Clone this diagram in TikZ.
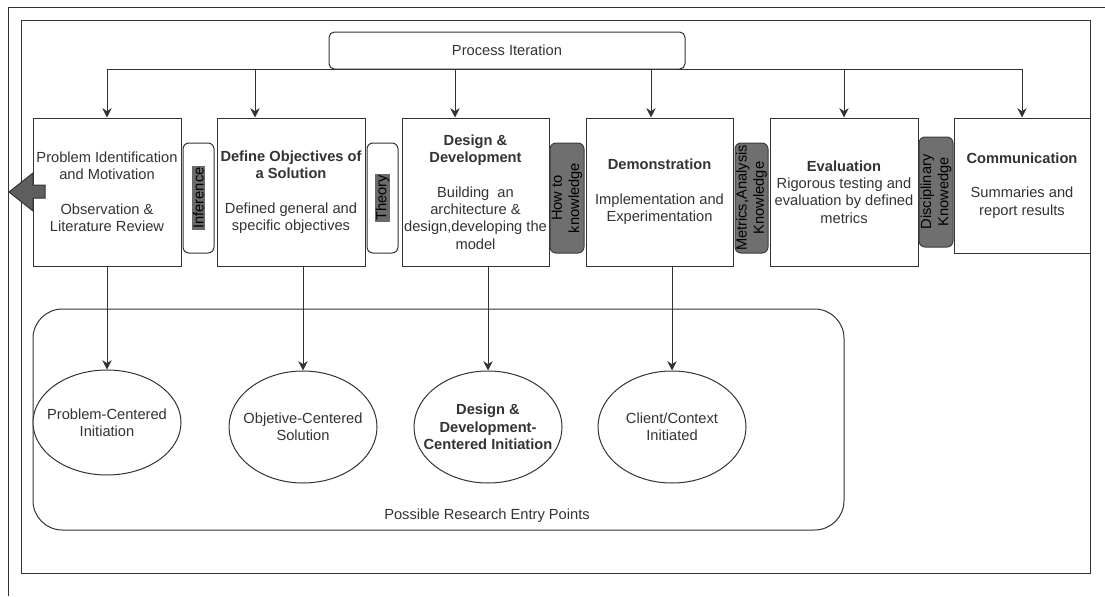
\documentclass[tikz,border=0pt]{standalone}
\usepackage{fontspec}
\setmainfont{Liberation Sans}
\usetikzlibrary{arrows.meta,shapes.geometric}

\definecolor{linecol}{HTML}{333333}
\definecolor{txtcol}{HTML}{333333}
\definecolor{pillgray}{HTML}{6F6F6F}
\definecolor{hlgray}{HTML}{6A6A6A}

\tikzset{every picture/.style={line width=0.75pt}}

\begin{document}
\begin{tikzpicture}[x=0.75pt,y=0.75pt,yscale=-1,xscale=1,
  font=\fontsize{11}{13}\selectfont,
  stage/.style={draw=linecol, fill=white, text=txtcol, align=center, inner sep=1pt, minimum width=111pt, minimum height=111pt},
  pill/.style={draw=linecol, fill=white, rounded corners=4.5pt, minimum width=23.25pt, minimum height=82.5pt, inner sep=0pt},
  greypill/.style={pill, fill=pillgray, draw=pillgray!55!black},
  sidetext/.style={rotate=90, align=center, text=black, inner sep=0.8pt},
  entrypt/.style={ellipse, draw=linecol, fill=white, text=txtcol, align=center, inner xsep=-12pt, inner ysep=0pt, minimum width=111pt, minimum height=84pt},
  arr/.style={draw=linecol, -{Stealth[length=7pt,width=7pt]}}]
\useasboundingbox (0,0) rectangle (1105,596);

%Straight Lines: outer frame
\draw [color=linecol] (8,596) -- (8,7) -- (1105,7) ;
%Shape: Rectangle: inner frame
\draw [color=linecol] (21,20) rectangle (1090,573) ;

%Shape: Rounded Rect: iteration
\node [draw=linecol, fill=white, text=txtcol, rounded corners=4pt, minimum width=267pt, minimum height=27.75pt] (iter) at (507,50.5) {Process Iteration};

%Shape: Rectangle: stages
\node [stage] (ident) at (107,192) {Problem Identification\\and Motivation\\[13pt]Observation \&\\Literature Review};
\node [stage] (object) at (291,192) {{\bfseries Define Objectives of}\\{\bfseries a Solution}\\[13pt]Defined general and\\specific objectives};
\node [stage, minimum width=110.25pt] (design) at (475.5,192) {{\bfseries Design \&}\\{\bfseries Development}\\[13pt]Building\ \ an\\architecture \&\\design,developing the\\model};
\node [stage, minimum width=110.25pt] (demo) at (659.5,192) {{\bfseries Demonstration}\\[13pt]Implementation and\\Experimentation};
\node [stage] (evalu) at (844,192) {{\bfseries Evaluation}\\Rigorous testing and\\evaluation by defined\\metrics};
\node [stage, minimum width=102pt, minimum height=101.25pt] (commun) at (1022,185.5) {{\bfseries Communication}\\[13pt]Summaries and\\report results};

%Straight Lines: iteration feed
\coordinate (topa) at (107,69);
\coordinate (topb) at (255,69);
\coordinate (topc) at (455,69);
\coordinate (topd) at (651,69);
\coordinate (tope) at (844,69);
\coordinate (topf) at (1022,69);
\draw [color=linecol] (topa) -- (topf) ;
\draw [arr] (topa) -- (ident.north) ;
\draw [arr] (topb) -- (topb |- object.north) ;
\draw [arr] (topc) -- (topc |- design.north) ;
\draw [arr] (topd) -- (topd |- demo.north) ;
\draw [arr] (tope) -- (evalu.north) ;
\draw [arr] (topf) -- (commun.north) ;

%Shape: Rounded Rect: knowledge pills
\node [pill] (infer) at (198.5,198) {};
\node [sidetext, fill=hlgray] (infertxt) at (infer) {Inference};
\node [pill] (theory) at (382.5,198) {};
\node [sidetext, fill=hlgray] (theorytxt) at (theory) {Theory};
\node [greypill, minimum width=25.5pt] (howto) at (567,198) {};
\node [sidetext] (howtotxt) at (howto) {How to\\knowledge};
\node [greypill, minimum width=24.75pt] (metric) at (751.5,198) {};
\node [sidetext] (metrictxt) at (metric) {Metrics,Analysis\\Knowledge};
\node [greypill, minimum width=25.5pt] (discip) at (936,192) {};
\node [sidetext] (disciptxt) at (discip) {Disciplinary\\Knowedge};

%Shape: Left Arrow
\draw [draw=linecol, fill=pillgray!85!black] (9,192) -- (33,173) -- (33,185) -- (45,185) -- (45,198) -- (33,198) -- (33,211) -- cycle ;

%Shape: Rounded Rect: entry points
\node [draw=linecol, rounded corners=22pt, minimum width=608.25pt, minimum height=165.75pt] (entry) at (438.5,419.5) {};
\node [text=txtcol] (entrytxt) at (487,516) {Possible Research Entry Points};

%Shape: Ellipse
\node [entrypt, minimum height=78.75pt] (probc) at (107,422.5) {Problem-Centered\\Initiation};
\node [entrypt] (objc) at (303,427) {Objetive-Centered\\Solution};
\node [entrypt, font=\fontsize{11}{13}\selectfont\bfseries] (desc) at (488,427) {Design \&\\Development-\\Centered Initiation};
\node [entrypt] (client) at (672,427) {Client/Context\\Initiated};

%Straight Lines: entry arrows
\draw [arr] (ident.south) -- (probc.north) ;
\draw [arr] (objc.north |- object.south) -- (objc.north) ;
\draw [arr] (desc.north |- design.south) -- (desc.north) ;
\draw [arr] (client.north |- demo.south) -- (client.north) ;
\end{tikzpicture}
\end{document}
